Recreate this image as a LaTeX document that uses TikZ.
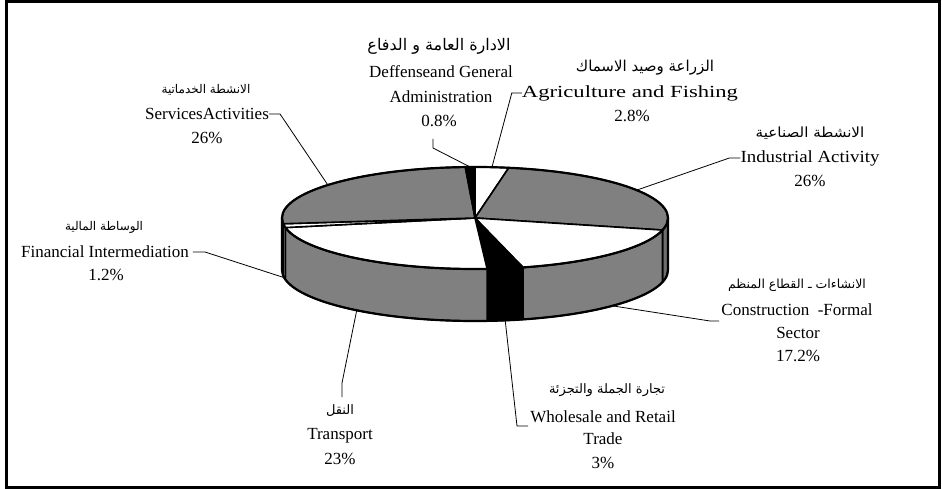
\documentclass[tikz,border=0pt]{standalone}
\usepackage{fontspec}
\usepackage{graphicx}
\setmainfont{Liberation Serif}
\newfontfamily\arabicfont[Script=Arabic]{DejaVu Sans}
\TeXXeTstate=1
\usetikzlibrary{calc}
\definecolor{piegray}{HTML}{808080}
\definecolor{stripgray}{HTML}{6E6E6E}
\begin{document}
\begin{tikzpicture}[x=1pt,y=-1pt,
  en/.style={font=\fontsize{17}{20}\selectfont, inner sep=0pt, anchor=center},
  ar/.style={font=\fontsize{12.5}{14}\arabicfont, inner sep=0pt, anchor=center},
  leader/.style={line width=0.8pt, line join=miter},
  slice/.style={draw=black, line width=1.6pt, line join=round},
  rim/.style={draw=black, line width=2.2pt, line join=round},
]
\useasboundingbox (0,0) rectangle (942,489);
\draw[line width=3pt] (6,2) rectangle (939,487);

% ---------- 3D pie ----------
\begin{scope}[shift={(475,218)}, y=1pt]
  % side faces (front half)
  \filldraw[fill=stripgray, slice] (-13.68:193 and 51) arc[start angle=-13.68, end angle=0, x radius=193, y radius=51] -- ++(0,-52) arc[start angle=0, end angle=-13.68, x radius=193, y radius=51] -- cycle;
  \filldraw[fill=piegray, slice] (-75.6:193 and 51) arc[start angle=-75.6, end angle=-13.68, x radius=193, y radius=51] -- ++(0,-52) arc[start angle=-13.68, end angle=-75.6, x radius=193, y radius=51] -- cycle;
  \filldraw[fill=black, slice] (-86.4:193 and 51) arc[start angle=-86.4, end angle=-75.6, x radius=193, y radius=51] -- ++(0,-52) arc[start angle=-75.6, end angle=-86.4, x radius=193, y radius=51] -- cycle;
  \filldraw[fill=piegray, slice] (-169.2:193 and 51) arc[start angle=-169.2, end angle=-86.4, x radius=193, y radius=51] -- ++(0,-52) arc[start angle=-86.4, end angle=-169.2, x radius=193, y radius=51] -- cycle;
  \filldraw[fill=white, slice] (-173.52:193 and 51) arc[start angle=-173.52, end angle=-169.2, x radius=193, y radius=51] -- ++(0,-52) arc[start angle=-169.2, end angle=-173.52, x radius=193, y radius=51] -- cycle;
  \filldraw[fill=black, slice] (-180:193 and 51) arc[start angle=-180, end angle=-173.52, x radius=193, y radius=51] -- ++(0,-52) arc[start angle=-173.52, end angle=-180, x radius=193, y radius=51] -- cycle;
  % top faces
  \filldraw[fill=white, slice] (0,0) -- (90:193 and 51) arc[start angle=90, end angle=79.92, x radius=193, y radius=51] -- cycle;
  \filldraw[fill=piegray, slice] (0,0) -- (79.92:193 and 51) arc[start angle=79.92, end angle=-13.68, x radius=193, y radius=51] -- cycle;
  \filldraw[fill=white, slice] (0,0) -- (-13.68:193 and 51) arc[start angle=-13.68, end angle=-75.6, x radius=193, y radius=51] -- cycle;
  \filldraw[fill=black, slice] (0,0) -- (-75.6:193 and 51) arc[start angle=-75.6, end angle=-86.4, x radius=193, y radius=51] -- cycle;
  \filldraw[fill=white, slice] (0,0) -- (-86.4:193 and 51) arc[start angle=-86.4, end angle=-169.2, x radius=193, y radius=51] -- cycle;
  \filldraw[fill=white, slice] (0,0) -- (-169.2:193 and 51) arc[start angle=-169.2, end angle=-173.52, x radius=193, y radius=51] -- cycle;
  \filldraw[fill=piegray, slice] (0,0) -- (186.48:193 and 51) arc[start angle=186.48, end angle=92.88, x radius=193, y radius=51] -- cycle;
  \filldraw[fill=black, slice] (0,0) -- (92.88:193 and 51) arc[start angle=92.88, end angle=90, x radius=193, y radius=51] -- cycle;
  % outer rim
  \draw[rim] (0,0) ellipse[x radius=193, y radius=51];
  \draw[rim] (180:193 and 51) -- ++(0,-52) arc[start angle=180, end angle=360, x radius=193, y radius=51] -- ++(0,52);
  % leader attach points
  \coordinate (pAgr) at (84.96:193 and 51);
  \coordinate (pInd) at (33.12:193 and 51);
  \coordinate (pSer) at (139.68:193 and 51);
  \coordinate (pDef) at (91.44:193 and 51);
  \coordinate (pCon) at ($(315.36:193 and 51)+(0,-52)$);
  \coordinate (pWho) at ($(279:193 and 51)+(0,-52)$);
  \coordinate (pTra) at ($(232.2:193 and 51)+(0,-52)$);
  \coordinate (pFin) at ($(188.64:193 and 51)+(0,-52)$);
\end{scope}

% ---------- labels ----------
% Defense
\node[ar, font=\fontsize{16}{18}\arabicfont] (defA) at (439,46) {\beginR الادارة العامة و الدفاع\endR};
\node[en] (defE1) at (441,72) {Deffenseand General};
\node[en] (defE2) at (441,97) {Administration};
\node[en] (defP) at (439,121) {0.8\%};
\coordinate (defT) at (433,139);
\draw[leader] (defT) -- ++(0,9) -- (pDef);

% Agriculture
\node[ar, font=\fontsize{15}{18}\arabicfont] (agrA) at (645,68) {\beginR الزراعة وصيد الاسماك\endR};
\node[en] (agrE) at (630,93) {\scalebox{1.33}[1]{Agriculture and Fishing}};
\node[en] (agrP) at (632,116) {2.8\%};
\draw[leader] (agrE.west) -- ++(-10,0) -- (pAgr);

% Industrial
\node[ar, font=\fontsize{14}{16}\arabicfont] (indA) at (810,133) {\scalebox{1.08}[1]{\beginR الانشطة الصناعية\endR}};
\node[en] (indE) at (810,158) {\scalebox{1.11}[1]{Industrial Activity}};
\node[en] (indP) at (810,181) {26\%};
\draw[leader] (indE.west) -- ++(-11,0) -- (pInd);

% Services
\node[ar, font=\fontsize{12}{14}\arabicfont] (serA) at (206,90) {\beginR الانشطة الخدماتية\endR};
\node[en] (serE) at (207,114) {ServicesActivities};
\node[en] (serP) at (207,138) {26\%};
\draw[leader] (serE.east) -- ++(11,0) -- (pSer);

% Financial
\node[ar, font=\fontsize{12}{14}\arabicfont] (finA) at (104,227) {\beginR الوساطة المالية\endR};
\node[en] (finE) at (105,252) {Financial Intermediation};
\node[en] (finP) at (106,275) {1.2\%};
\draw[leader] ([xshift=4pt]finE.east) -- ++(12,0) -- (pFin);

% Construction
\node[ar] (conA) at (797,285) {\beginR الانشاءات ـ القطاع المنظم\endR};
\node[en] (conE1) at (797,310) {Construction\ \ -Formal};
\node[en] (conE2) at (798,333) {Sector};
\node[en] (conP) at (798,356) {17.2\%};
\coordinate (conL) at (719,321);
\draw[leader] (conL) -- ++(-9,0) -- (pCon);

% Wholesale
\node[ar, font=\fontsize{13}{15}\arabicfont] (whoA) at (607,390) {\beginR تجارة الجملة والتجزئة\endR};
\node[en] (whoE1) at (603,417) {Wholesale and Retail};
\node[en] (whoE2) at (603,439) {Trade};
\node[en] (whoP) at (603,463) {3\%};
\coordinate (whoL) at (528,426);
\draw[leader] (whoL) -- ++(-11,0) -- (pWho);

% Transport
\node[ar, font=\fontsize{13}{15}\arabicfont] (traA) at (340,411) {\beginR النقل\endR};
\node[en] (traE) at (340,436) {Transport};
\node[en] (traP) at (340,459) {23\%};
\coordinate (traL) at (342,397);
\draw[leader] (traL) -- ++(0,-14) -- (pTra);
\end{tikzpicture}
\end{document}
